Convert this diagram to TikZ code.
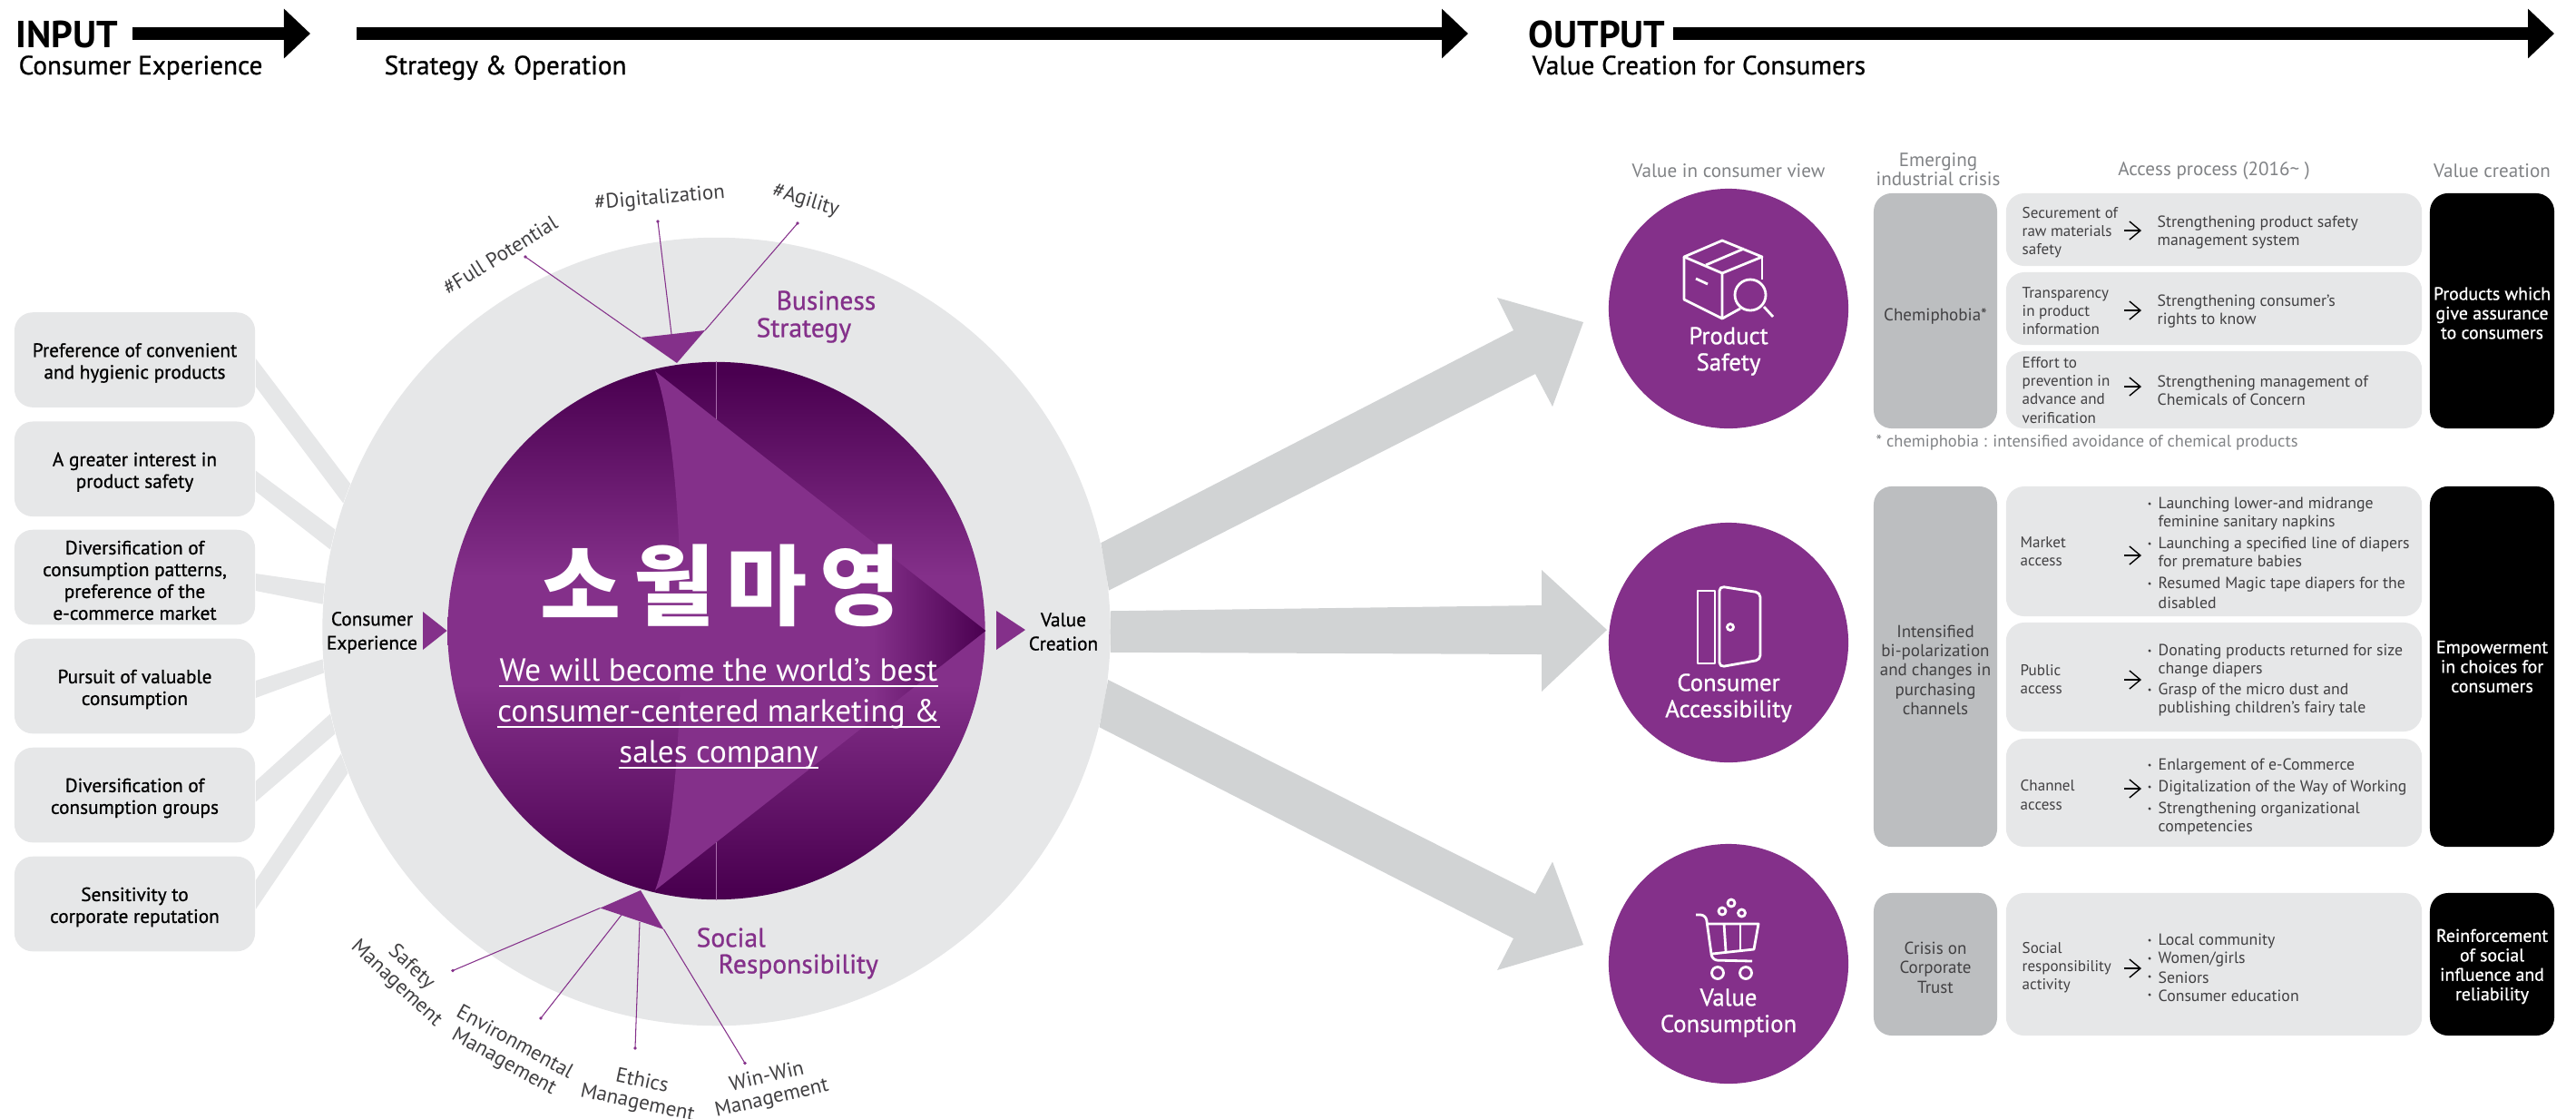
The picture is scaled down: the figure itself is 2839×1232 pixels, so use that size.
\documentclass[tikz,border=0pt]{standalone}
\usepackage{fontspec}
\setmainfont{PT Sans}
\newfontfamily\krfont{Noto Sans CJK KR}
\newfontfamily\medfont[FakeBold=0.8]{PT Sans}
\usetikzlibrary{arrows.meta, calc}
\definecolor{violet}{RGB}{132, 48, 138}
\definecolor{deep}{RGB}{74, 0, 80}
\definecolor{pale}{RGB}{230, 231, 232}
\definecolor{shaft}{RGB}{209, 211, 212}
\definecolor{slab}{RGB}{188, 190, 192}
\definecolor{ink}{RGB}{65, 64, 66}
\definecolor{faded}{RGB}{128, 130, 133}
\pgfdeclareverticalshading{discshade}{100bp}{color(0bp)=(deep); color(26bp)=(deep); color(45bp)=(violet); color(55bp)=(violet); color(74bp)=(deep); color(100bp)=(deep)}
\pgfdeclarehorizontalshading{tipshade}{100bp}{color(0bp)=(violet); color(58bp)=(violet); color(75bp)=(deep); color(100bp)=(deep)}
\newcommand{\lift}[1]{\rule{0pt}{#1}}

\begin{document}
\begin{tikzpicture}[x=0.01cm, y=-0.01cm,
    headarrow/.style={line width=1.4mm, -{Triangle[length=2.9mm, width=5.3mm]}},
    bigtitle/.style={inner sep=0, anchor=base west, font=\fontsize{11.8}{12}\selectfont\bfseries},
    subtitle/.style={inner sep=0, anchor=base west, font=\medfont\fontsize{8.3}{9}\selectfont},
    needbox/.style={fill=pale, rounded corners=2mm, minimum width=2.65cm, minimum height=1.045cm,
      inner sep=0, align=center, font=\medfont\fontsize{6.05}{6.83}\selectfont},
    needstrip/.style={fill=pale},
    bigshaft/.style={fill=shaft},
    midlabel/.style={inner sep=0, align=center, font=\medfont\fontsize{6.05}{7.5}\selectfont},
    pointer/.style={fill=violet},
    leader/.style={draw=violet, line width=0.3pt},
    hashlabel/.style={inner sep=0, align=center, text=ink, font=\fontsize{6.5}{6.9}\selectfont},
    sidelabel/.style={inner sep=0, text=violet, anchor=west, font=\medfont\fontsize{8.4}{9}\selectfont},
    missionline/.style={inner sep=0, anchor=base, text=white, font=\fontsize{10}{11}\selectfont},
    valuedisc/.style={circle, fill=violet, minimum size=2.64cm, inner sep=0},
    disclabel/.style={inner sep=0, align=center, text=white, font=\medfont\fontsize{7.6}{8.25}\selectfont},
    icon/.style={draw=white, line width=0.28mm, line join=round},
    columnhead/.style={inner sep=0, align=center, text=faded, font=\fontsize{6}{6}\selectfont},
    crisisbox/.style={fill=slab, rounded corners=2mm, minimum width=1.36cm, inner sep=0,
      align=center, text=ink, font=\fontsize{5.4}{6.05}\selectfont},
    accessbox/.style={fill=pale, rounded corners=2mm, minimum width=4.58cm, inner sep=0},
    resultbox/.style={fill=black, rounded corners=2mm, minimum width=1.37cm, inner sep=0,
      align=center, text=white, font=\medfont\fontsize{5.65}{6.1}\selectfont},
    accesstext/.style={inner sep=0, anchor=west, align=left, text=ink, font=\fontsize{5.05}{5.7}\selectfont},
    reasontext/.style={accesstext, font=\fontsize{4.85}{5.7}\selectfont},
    accessarrow/.style={line width=0.4pt, -{Straight Barb[length=1.2mm, width=2mm]}}]

  \useasboundingbox (0, 0) rectangle (2839, 1232);

  % top band
  \foreach \name/\a/\b in {input/146/342, strategy/393/1618, output/1844/2815} {
    \coordinate (\name start) at (\a, 37);
    \coordinate (\name end) at (\b, 37);
    \draw[headarrow] (\name start) -- (\name end);
  }
  \node[bigtitle] (inputtitle) at (17, 52) {INPUT};
  \node[bigtitle] (outputtitle) at (1684, 52) {OUTPUT};
  \node[subtitle] (inputsub) at (20, 82) {Consumer Experience};
  \node[subtitle] (strategysub) at (423, 82) {Strategy \& Operation};
  \node[subtitle] (outputsub) at (1688, 82) {Value Creation for Consumers};

  % centre
  \node[circle, fill=pale, minimum size=8.68cm, inner sep=0] (outer) at (789.5, 696) {};

  \foreach \i/\y/\txt in {
    1/396.5/{Preference of convenient\\and hygienic products},
    2/516.75/{A greater interest in\\product safety},
    3/636/{Diversification of\\consumption patterns,\\preference of the\\e-commerce market},
    4/756/{Pursuit of valuable\\consumption},
    5/876/{Diversification of\\consumption groups},
    6/996/{Sensitivity to\\corporate reputation}} {
    \node[needbox] (need\i) at (148.5, \y) {\lift{2.2mm}\txt};
  }
  \foreach \i/\ya/\yb/\aa/\ab in {
    1/0.15/-2.95/158.2/161.3,
    2/-0.18/-2.47/165.2/168,
    3/0.4/-1.5/173.9/176.3,
    4/0.6/-1.3/184.2/186.6,
    5/1.53/-0.76/192.5/195.3,
    6/2.6/-0.6/198.6/201.6} {
    \fill[needstrip] ([yshift=\ya mm]need\i.east) -- (outer.\aa) -- (outer.\ab)
      -- ([yshift=\yb mm]need\i.east) -- cycle;
  }

  \fill[bigshaft] (outer.13.7) -- (1668, 364) -- (1650, 328) -- (1745, 355)
    -- (1711, 448) -- (1692, 412) -- (outer.6.3) -- cycle;
  \fill[bigshaft] (outer.3.8) -- (1699, 667) -- (1699, 628) -- (1771, 694)
    -- (1699, 762) -- (1699, 721) -- (outer.-3.3) -- cycle;
  \fill[bigshaft] (outer.-7) -- (1692, 985) -- (1711, 949.5) -- (1745, 1041)
    -- (1650, 1069) -- (1668, 1034) -- (outer.-14.3) -- cycle;

  \node[circle, shading=discshade, minimum size=5.92cm, inner sep=0] (disc) at (789.5, 695) {};
  \draw[violet!70!white, line width=0.3pt] (disc.north) -- (disc.south);
  \shade[shading=tipshade] (722, 409) -- (disc.east) -- (722, 981)
    .. controls (760, 880) and (760, 510) .. (722, 409) -- cycle;

  \node[inner sep=0, text=white, font=\krfont\bfseries\fontsize{27.5}{30}\selectfont] (brand) at (794, 645)
    {소\kern1.35mm 월\kern1.35mm 마\kern1.35mm 영};
  \foreach \i/\y/\txt in {1/750/We will become the world’s best, 2/795/consumer-centered marketing \&, 3/840/sales company} {
    \node[missionline] (mission\i) at (792, \y) {\txt};
    \draw[white, line width=0.4pt] ([yshift=-0.6mm]mission\i.base west) -- ([yshift=-0.6mm]mission\i.base east);
  }

  % pointers
  \fill[pointer] (466, 674) -- (disc.west) -- (466, 716) -- cycle;
  \fill[pointer] (1098, 673) -- (1130, 694) -- (1098, 716) -- cycle;
  \fill[pointer] (706, 372) -- (777, 364) -- (746, 400) -- cycle;
  \fill[pointer] (706, 981) -- (731.5, 1024) -- (661.5, 1000.5) -- cycle;
  \node[midlabel] (consumerexp) at (410, 697) {Consumer\\Experience};
  \node[midlabel] (valuecreation) at (1172, 696) {Value\\Creation};

  \foreach \i/\a/\b/\c/\d in {
    1/579/283/706/372, 2/725/244/740/368, 3/879/246/777/364,
    4/499/1069.5/661.5/1000.5, 5/596/1122/685/1008, 6/700/1155/705/1016, 7/821/1171.5/731.5/1024} {
    \coordinate (leaderfrom\i) at (\a, \b);
    \coordinate (leaderto\i) at (\c, \d);
    \draw[leader] (leaderfrom\i) -- (leaderto\i);
    \fill[violet] (leaderfrom\i) circle (1.8);
  }

  \node[hashlabel, rotate=32] (fullpotential) at (551, 281) {\#Full Potential};
  \node[hashlabel, rotate=5] (digitalization) at (727, 219) {\#Digitalization};
  \node[hashlabel, rotate=-17] (agility) at (888, 221) {\#Agility};
  \node[hashlabel, rotate=-43] (safety) at (445, 1075) {Safety\\Management};
  \node[hashlabel, rotate=-29] (environmental) at (561, 1160) {Environmental\\Management};
  \node[hashlabel, rotate=-12] (ethics) at (705, 1204) {Ethics\\Management};
  \node[hashlabel, rotate=13] (winwin) at (848, 1199) {Win-Win\\Management};

  \node[sidelabel] (business) at (855, 331) {Business};
  \node[sidelabel] (strategy) at (833, 364) {Strategy};
  \node[sidelabel] (social) at (767, 1033) {Social};
  \node[sidelabel] (responsibility) at (791, 1065) {Responsibility};

  % value discs
  \node[valuedisc] (safetydisc) at (1905, 340) {};
  \node[valuedisc] (accessdisc) at (1905, 708) {};
  \node[valuedisc] (consumedisc) at (1905, 1062) {};
  \node[disclabel] (safetytext) at (1905, 387) {Product\\Safety};
  \node[disclabel] (accesstitle) at (1905, 769) {Consumer\\Accessibility};
  \node[disclabel] (consumetext) at (1905, 1116) {Value\\Consumption};

  % box and magnifier
  \draw[icon] (1898, 265) -- (1942, 283) -- (1898, 301) -- (1856, 283) -- cycle;
  \draw[icon] (1856, 283) -- (1856, 330) -- (1898, 351) -- (1898, 301);
  \draw[icon] (1942, 283) -- (1942, 308);
  \draw[icon] (1898, 351) -- (1918, 340);
  \draw[icon] (1880, 292) -- (1922, 274);
  \draw[icon] (1869, 307) -- (1882, 313);
  \draw[icon] (1929, 325) circle (17);
  \draw[icon] (1944, 338) -- (1954, 349);

  % door
  \draw[icon] (1871, 651) rectangle (1890, 731);
  \draw[icon, rounded corners=0.5mm] (1895, 646) -- (1940, 653) -- (1940, 727) -- (1895, 735) -- cycle;
  \draw[icon] (1907, 691) circle (3.5);

  % cart
  \draw[icon, rounded corners=0.6mm] (1869, 1008) -- (1880, 1008) -- (1887, 1058) -- (1931, 1059);
  \draw[icon] (1880, 1018) -- (1938, 1018) -- (1933, 1046) -- (1887, 1051);
  \draw[icon] (1900, 1018) -- (1902, 1048);
  \draw[icon] (1918, 1018) -- (1918, 1047);
  \foreach \x in {1893, 1924} {
    \draw[icon] (\x, 1072) circle (6.5);
  }
  \foreach \x/\y in {1898/1004, 1908/995, 1919.5/1006} {
    \draw[icon] (\x, \y) circle (4);
  }

  % table heads
  \node[columnhead] (headview) at (1905, 188) {Value in consumer view};
  \node[columnhead] (headcrisis) at (2136, 187) {Emerging\\industrial crisis};
  \node[columnhead] (headaccess) at (2440, 188) {Access process (2016\textasciitilde{} )};
  \node[columnhead] (headvalue) at (2746.5, 188) {Value creation};

  % first row
  \node[crisisbox, minimum height=2.59cm] (crisisa) at (2133, 342.5) {\lift{2.6mm}Chemiphobia*};
  \node[accessbox, minimum height=0.8cm] (accessa) at (2440, 253) {};
  \node[accessbox, minimum height=0.8cm] (accessb) at (2440, 340) {};
  \node[accessbox, minimum height=0.85cm] (accessc) at (2440, 429.5) {};
  \node[resultbox, minimum height=2.59cm] (resulta) at (2746.5, 342.5) {\lift{1.9mm}Products which\\give assurance\\to consumers};
  \node[reasontext] (leftaa) at (2228, 256) {Securement of\\raw materials\\safety};
  \node[accesstext] (rightaa) at (2377, 256) {Strengthening product safety\\management system};
  \node[reasontext] (leftab) at (2228, 343) {Transparency\\in product\\information};
  \node[accesstext] (rightab) at (2377, 343) {Strengthening consumer’s\\rights to know};
  \node[reasontext] (leftac) at (2228, 430) {Effort to\\prevention in\\advance and\\verification};
  \node[accesstext] (rightac) at (2377, 430) {Strengthening management of\\Chemicals of Concern};
  \node[inner sep=0, anchor=west, text=faded, font=\fontsize{5.25}{5.7}\selectfont] (footnote) at (2067, 488)
    {* chemiphobia : intensified avoidance of chemical products};

  % second row
  \node[crisisbox, minimum height=3.97cm] (crisisb) at (2133, 734.5)
    {\lift{2.1mm}Intensified\\bi-polarization\\and changes in\\purchasing\\channels};
  \node[accessbox, minimum height=1.43cm] (accessd) at (2440, 607.5) {};
  \node[accessbox, minimum height=1.2cm] (accesse) at (2440, 746) {};
  \node[accessbox, minimum height=1.19cm] (accessf) at (2440, 873.5) {};
  \node[resultbox, minimum height=3.97cm] (resultb) at (2746.5, 734.5) {Empowerment\\in choices for\\consumers};
  \node[reasontext] (leftba) at (2226, 608) {Market\\access};
  \node[reasontext] (leftbb) at (2226, 749) {Public\\access};
  \node[reasontext] (leftbc) at (2226, 876) {Channel\\access};

  % third row
  \node[crisisbox, minimum height=1.57cm] (crisisc) at (2133, 1062.5) {\lift{2.1mm}Crisis on\\Corporate\\Trust};
  \node[accessbox, minimum height=1.57cm] (accessg) at (2440, 1062.5) {};
  \node[resultbox, minimum height=1.57cm] (resultc) at (2746.5, 1062.5)
    {\lift{1.9mm}Reinforcement\\of social\\influence and\\reliability};
  \node[reasontext] (leftca) at (2228, 1066) {Social\\responsibility\\activity};

  \foreach \i/\y/\txt in {
    1/556/Launching lower-and midrange, 2/576/feminine sanitary napkins,
    3/600/Launching a specified line of diapers, 4/620/for premature babies,
    5/644/Resumed Magic tape diapers for the, 6/664/disabled,
    7/718/Donating products returned for size, 8/738/change diapers,
    9/761/Grasp of the micro dust and, 10/781/publishing children’s fairy tale,
    11/844/Enlargement of e-Commerce, 12/868/Digitalization of the Way of Working,
    13/892/Strengthening organizational, 14/912/competencies,
    15/1037/Local community, 16/1057/{Women/girls}, 17/1077/Seniors, 18/1097/Consumer education} {
    \node[accesstext] (item\i) at (2378, \y) {\txt};
  }
  \foreach \y in {555, 599, 643, 717, 760, 843, 867, 891, 1036, 1056, 1076, 1096} {
    \fill[ink] (2369, \y) circle (1.7);
  }
  \foreach \i/\y in {1/254, 2/342, 3/426, 4/612, 5/749, 6/869, 7/1067} {
    \coordinate (arrowstart\i) at (2341, \y);
    \coordinate (arrowend\i) at (2360, \y);
    \draw[accessarrow] (arrowstart\i) -- (arrowend\i);
  }

\end{tikzpicture}
\end{document}
